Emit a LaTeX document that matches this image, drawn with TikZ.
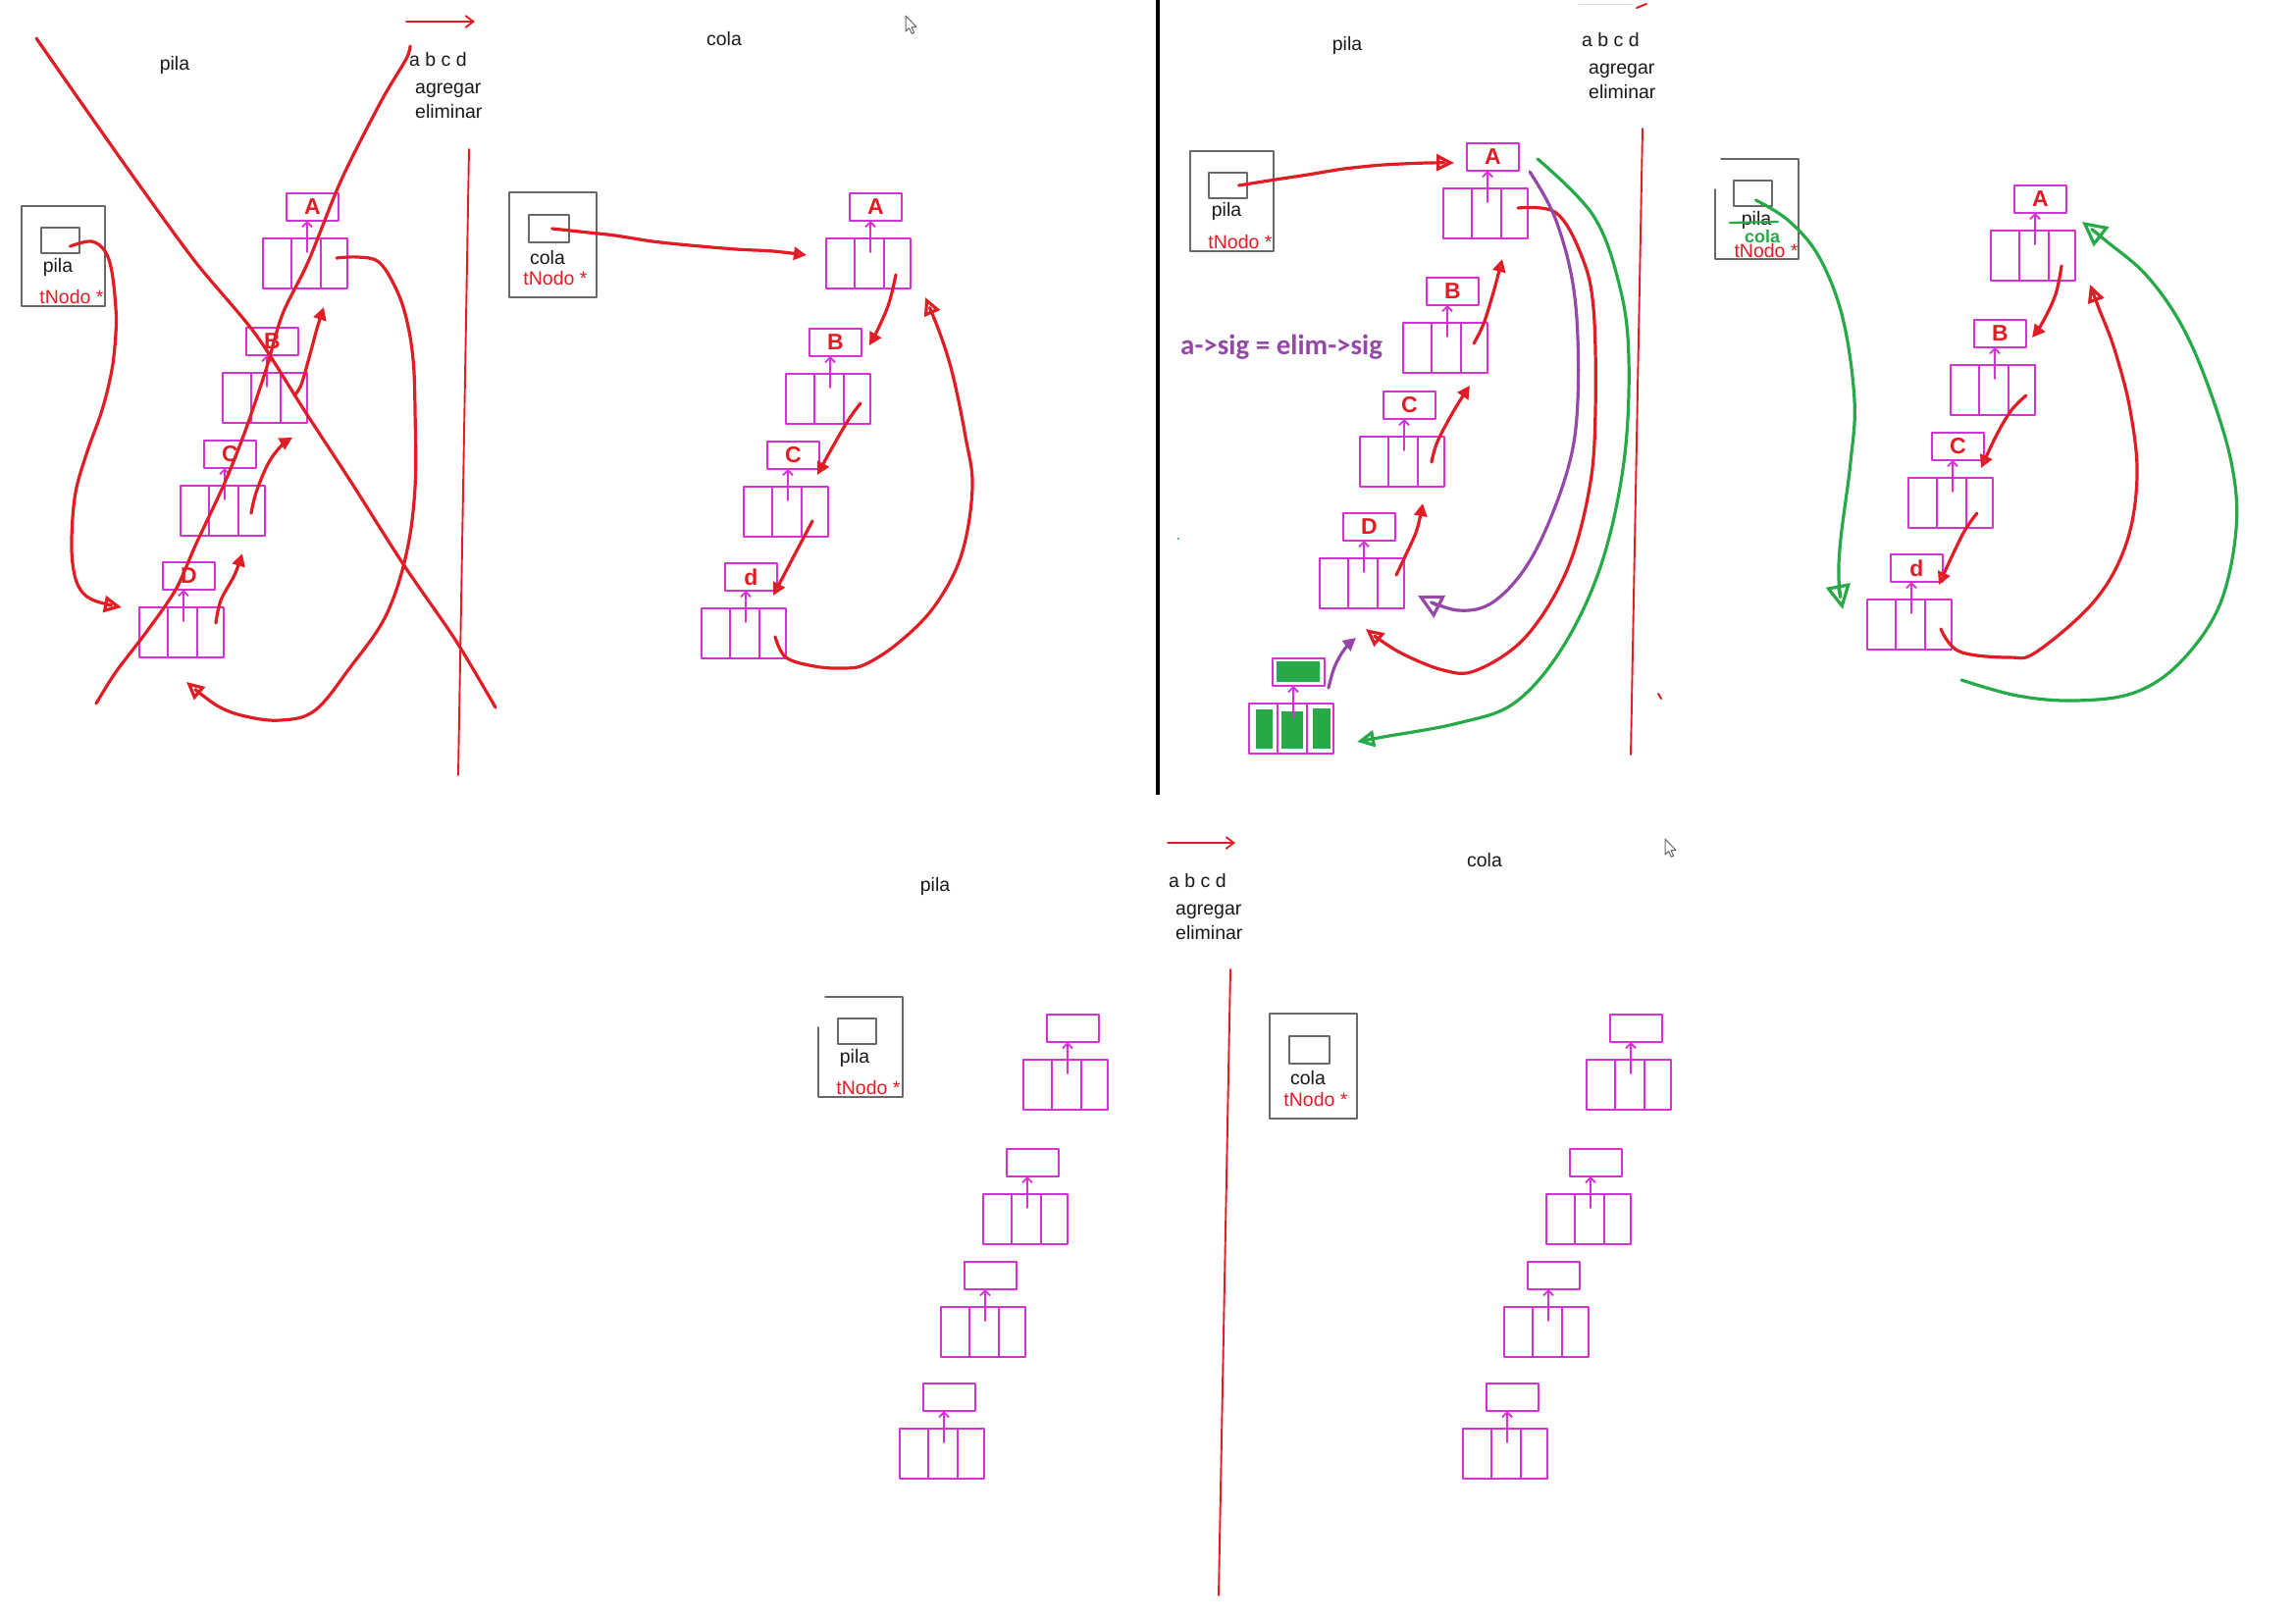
\documentclass[tikz,border=0pt]{standalone}
\usepackage{fontspec}
\setmainfont{Liberation Sans}
\newfontfamily\notefont{Carlito}
\usetikzlibrary{arrows.meta,calc}

\definecolor{mag}{RGB}{214,48,214}
\definecolor{penred}{RGB}{226,28,36}
\definecolor{pengreen}{RGB}{38,170,72}
\definecolor{penpurple}{RGB}{150,72,168}
\definecolor{boxgray}{RGB}{105,105,105}
\definecolor{ink}{RGB}{25,25,25}

\tikzset{
  lbl/.style={font=\fontsize{19.5}{22}\selectfont, text=ink, inner sep=0pt},
  typelbl/.style={font=\fontsize{19.5}{22}\selectfont, text=penred, inner sep=0pt},
  magline/.style={draw=mag, line width=1.8pt},
  structbox/.style={rectangle, draw=mag, line width=1.8pt, minimum width=86pt,
    minimum height=51pt, inner sep=0pt, outer sep=0pt, anchor=north west},
  databox/.style={rectangle, draw=mag, line width=1.8pt, minimum width=53pt,
    minimum height=28pt, inner sep=0pt, outer sep=0pt, anchor=north west,
    text=penred, font=\fontsize{23}{23}\selectfont\bfseries},
  varframe/.style={rectangle, draw=boxgray, line width=1.5pt, inner sep=0pt,
    outer sep=0pt, anchor=north west},
  ptrcell/.style={rectangle, draw=boxgray, line width=1.5pt, inner sep=0pt,
    outer sep=0pt, anchor=north west, minimum width=39pt, minimum height=26pt},
  redpen/.style={draw=penred, line width=3.2pt},
  greenpen/.style={draw=pengreen, line width=3.2pt},
  purplepen/.style={draw=penpurple, line width=3.2pt},
  thinred/.style={draw=penred, line width=1.9pt},
  headS/.style={-{Triangle[open,length=13pt,width=13pt]}},
  headM/.style={-{Triangle[open,length=18pt,width=17pt]}},
  headL/.style={-{Triangle[open,length=25pt,width=25pt]}},
  barb/.style={-{Straight Barb[length=8pt,width=12pt]}},
  cursorshape/.style={draw=black!60, fill=white, line width=1pt},
}

% one list node: data box above a three-cell record, with the arrow between them
\newcommand\listnode[4]{%
  \node[structbox] (#1) at (#2,#3) {};
  \node[databox] (#1d) at ($(#1.north west)+(24,-46)$) {#4};
  \draw[magline] ($(#1.north west)+(29,0)$) -- ($(#1.south west)+(29,0)$);
  \draw[magline] ($(#1.north west)+(59,0)$) -- ($(#1.south west)+(59,0)$);
  \draw[magline,-{Straight Barb[length=5pt,width=10pt]}]
    ($(#1.north west)+(45,14)$) -- ($(#1d.south west)+(21,0)$);
}

% mouse pointer outline
\newcommand\mousecursor[1]{%
  \draw[cursorshape, shift={#1}] (0,0) -- (0,16) -- (3.6,12.6) -- (6.2,18.2)
    -- (8.6,17.2) -- (6.1,11.7) -- (11,11.4) -- cycle;
}

\begin{document}
\begin{tikzpicture}[x=1pt,y=-1pt,line cap=round,line join=round]
\fill[white] (0,0) rectangle (2340,1649);
\useasboundingbox (0,0) rectangle (2340,1649);

% ------------------------------------------------------------ panel 1: pila (crossed out)
\node[lbl] (t1) at (178,66) {pila};
\draw[thinred,barb] (414,22) -- (484,22);
\node[lbl,anchor=west] (ops1a) at (417,61) {a b c d};
\node[lbl,anchor=west] (ops1b) at (423,92) {agregar};
\node[lbl,anchor=west] (ops1c) at (423,114) {eliminar};
\draw[thinred] (478,152) -- (467,790);

\node[varframe,minimum width=85pt,minimum height=102pt] (v1) at (22,210) {};
\node[ptrcell] (v1p) at (42,232) {};
\node[lbl] at (59,272) {pila};
\node[typelbl] at (73,303) {tNodo *};

\listnode{p1A}{268}{243}{A}
\listnode{p1B}{227}{380}{B}
\listnode{p1C}{184}{495}{C}
\listnode{p1D}{142}{619}{D}

\coordinate (v1s) at ($(v1p.center)+(10,6)$);
\draw[redpen,headM] plot[smooth,tension=0.6] coordinates {(v1s) (93,246) (107,256)
  (114,277) (118,314) (118,340) (114,377) (104,418) (89,460) (77,502) (73,549)
  (75,581) (82,601) (96,612) (124,619)};
\coordinate (p1As) at ($(p1A.north west)+(75,20)$);
\draw[redpen,headM] plot[smooth,tension=0.6] coordinates {(p1As) (364,262) (386,267)
  (403,293) (414,324) (421,366) (423,418) (423,497) (414,565) (393,628) (357,680)
  (321,724) (286,734) (250,730) (221,719) (190,695)};
\coordinate (p1Ds) at ($(p1D.north west)+(78,16)$);
\draw[redpen,headS] plot[smooth,tension=0.6] coordinates {(p1Ds) (225,612) (239,586) (247,564)};
\coordinate (p1Cs) at ($(p1C.north west)+(72,28)$);
\draw[redpen,headS] plot[smooth,tension=0.6] coordinates {(p1Cs) (261,502) (273,473) (286,455) (298,446)};
\coordinate (p1Bs) at ($(p1B.north west)+(73,23)$);
\draw[redpen,headS] plot[smooth,tension=0.6] coordinates {(p1Bs) (307,392) (316,361) (323,335) (330,313)};

% the two crossing strokes
\draw[redpen] plot[smooth,tension=0.5] coordinates {(37,39) (90,115) (143,190) (200,268)
  (260,340) (310,418) (357,490) (411,575) (464,652) (505,721)};
\draw[redpen] plot[smooth,tension=0.5] coordinates {(98,717) (118,685) (150,643) (179,601)
  (200,554) (229,492) (250,439) (271,377) (288,320) (314,267) (348,183) (388,104)
  (414,60) (418,47)};

% ------------------------------------------------------------ panel 2: cola
\node[lbl] (t2) at (738,40) {cola};
\mousecursor{(923,16)}
\node[varframe,minimum width=89pt,minimum height=107pt] (v2) at (519,196) {};
\node[ptrcell,minimum width=41pt,minimum height=28pt] (v2p) at (539,219) {};
\node[lbl] at (558,263) {cola};
\node[typelbl] at (566,284) {tNodo *};

\listnode{p2A}{842}{243}{A}
\listnode{p2B}{801}{381}{B}
\listnode{p2C}{758}{496}{C}
\listnode{p2D}{715}{620}{d}

\coordinate (v2s) at ($(v2p.center)+(3,0)$);
\draw[redpen,headS] plot[smooth,tension=0.5] coordinates {(v2s) (600,237) (627,240)
  (665,246) (703,250) (750,254) (788,256) (822,260)};
\coordinate (p2As) at ($(p2A.north west)+(71,37)$);
\draw[redpen,headS] plot[smooth,tension=0.6] coordinates {(p2As) (906,309) (895,335) (886,352)};
\coordinate (p2Bs) at ($(p2B.north west)+(76,30)$);
\draw[redpen,headS] plot[smooth,tension=0.6] coordinates {(p2Bs) (864,429) (846,460) (833,484)};
\coordinate (p2Cs) at ($(p2C.north west)+(70,35)$);
\draw[redpen,headS] plot[smooth,tension=0.6] coordinates {(p2Cs) (810,565) (788,607)};
\coordinate (p2Ds) at ($(p2D.north west)+(75,29)$);
\draw[redpen,headM] plot[smooth,tension=0.6] coordinates {(p2Ds) (801,670) (830,679)
  (859,681) (882,677) (917,654) (953,617) (980,565) (991,497) (984,445) (971,382)
  (958,340) (943,303)};

% ------------------------------------------------------------ divider
\draw[black,line width=4.5pt,line cap=butt] (1180,0) -- (1180,810);

% ------------------------------------------------------------ panel 3: pila, removing
\node[lbl] (t3) at (1373,46) {pila};
\node[lbl,anchor=west] (ops3a) at (1612,41) {a b c d};
\node[lbl,anchor=west] (ops3b) at (1619,72) {agregar};
\node[lbl,anchor=west] (ops3c) at (1619,94) {eliminar};
\draw[black!12,line width=1pt] (1609,4) -- (1664,4);
\draw[penred,line width=2pt] (1668,8) -- (1678,4);
\draw[thinred] (1674,131) -- (1662,769);
\draw[penred,line width=2pt] (1690,707) -- (1693,712);
\fill[pengreen] (1201,549) circle (1.2pt);

\node[varframe,minimum width=85pt,minimum height=102pt] (v3) at (1213,154) {};
\node[ptrcell] (v3p) at (1232,176) {};
\node[lbl] at (1250,215) {pila};
\node[typelbl] at (1264,247) {tNodo *};

\node[font=\notefont\fontsize{29}{31}\selectfont\bfseries, text=penpurple,
  anchor=west, inner sep=0pt] (note3) at (1203,354) {a->sig = elim->sig};

% green-filled node being removed
\fill[pengreen] (1301,674) rectangle (1345,695);
\fill[pengreen] (1280,723) rectangle (1297,763);
\fill[pengreen] (1306,725) rectangle (1328,763);
\fill[pengreen] (1338,722) rectangle (1356,763);

\listnode{p3A}{1471}{192}{A}
\listnode{p3B}{1430}{329}{B}
\listnode{p3C}{1386}{445}{C}
\listnode{p3D}{1345}{569}{D}
\listnode{p3G}{1273}{717}{}

\coordinate (v3s) at ($(v3p.center)+(11,0)$);
\draw[redpen,headM] plot[smooth,tension=0.5] coordinates {(v3s) (1300,183) (1333,178)
  (1370,172) (1410,168) (1455,166) (1482,166)};
\coordinate (p3Bs) at ($(p3B.north west)+(72,21)$);
\draw[redpen,headS] plot[smooth,tension=0.6] coordinates {(p3Bs) (1512,330) (1522,298) (1531,264)};
\coordinate (p3Cs) at ($(p3C.north west)+(73,26)$);
\draw[redpen,headS] plot[smooth,tension=0.6] coordinates {(p3Cs) (1465,450) (1482,418) (1498,393)};
\coordinate (p3Ds) at ($(p3D.north west)+(78,17)$);
\draw[redpen,headS] plot[smooth,tension=0.6] coordinates {(p3Ds) (1433,565) (1444,540) (1450,513)};
\coordinate (p3As) at ($(p3A.north west)+(76,20)$);
\draw[redpen,headM] plot[smooth,tension=0.6] coordinates {(p3As) (1586,217) (1612,261)
  (1624,314) (1626,418) (1620,497) (1597,581) (1555,649) (1505,683) (1471,683)
  (1425,664) (1392,641)};
\draw[purplepen,headL] plot[smooth,tension=0.6] coordinates {(1559,175) (1586,225)
  (1605,303) (1608,408) (1597,481) (1563,565) (1524,612) (1486,622) (1445,607)};
\coordinate (p3Gs) at ($(p3G.north east)+(-5,-16)$);
\draw[purplepen,headS] plot[smooth,tension=0.6] coordinates {(p3Gs) (1360,680) (1370,662) (1382,650)};
\draw[greenpen,headM] plot[smooth,tension=0.6] coordinates {(1567,162) (1624,220)
  (1651,293) (1660,366) (1655,471) (1632,575) (1593,659) (1544,716) (1486,737)
  (1410,751) (1383,756)};

% ------------------------------------------------------------ panel 4: the same list as a cola
\draw[draw=boxgray,line width=1.5pt] (1754,162) -- (1833,162) -- (1833,264) -- (1748,264) -- (1748,193);
\node[ptrcell] (v4p) at (1767,184) {};
\node[lbl] (v4l) at (1790,224) {pila};
\node[typelbl] at (1800,256) {tNodo *};
\draw[pengreen,line width=2.2pt] (1763,227) -- (1812,226);
\node[font=\fontsize{18}{20}\selectfont\bfseries, text=pengreen, inner sep=0pt] at (1796,241) {cola};

\listnode{p4A}{2029}{235}{A}
\listnode{p4B}{1988}{372}{B}
\listnode{p4C}{1945}{487}{C}
\listnode{p4D}{1903}{611}{d}

\coordinate (p4As) at ($(p4A.north west)+(72,36)$);
\draw[redpen,headS] plot[smooth,tension=0.6] coordinates {(p4As) (2095,300) (2082,328) (2071,344)};
\coordinate (p4Bs) at ($(p4B.north west)+(77,31)$);
\draw[redpen,headS] plot[smooth,tension=0.6] coordinates {(p4Bs) (2050,418) (2035,443) (2019,477)};
\coordinate (p4Cs) at ($(p4C.north west)+(70,36)$);
\draw[redpen,headS] plot[smooth,tension=0.6] coordinates {(p4Cs) (2000,545) (1976,596)};
\coordinate (p4Ds) at ($(p4D.north west)+(75,30)$);
\draw[redpen,headM] plot[smooth,tension=0.6] coordinates {(p4Ds) (1997,664) (2048,670)
  (2076,664) (2135,612) (2167,554) (2178,486) (2171,418) (2155,356) (2139,314) (2130,290)};
\coordinate (v4s) at ($(v4p.center)+(3,7)$);
\draw[greenpen,headL] plot[smooth,tension=0.6] coordinates {(v4s) (1823,225) (1854,262)
  (1878,324) (1890,408) (1886,471) (1876,549) (1874,590) (1878,621)};
\draw[greenpen,headL] plot[smooth,tension=0.6] coordinates {(1999,693) (2056,709)
  (2115,714) (2175,706) (2222,675) (2262,617) (2279,539) (2274,471) (2250,392)
  (2222,329) (2187,280) (2147,246) (2122,226)};

% ------------------------------------------------------------ panel 5: pila, empty
\node[lbl] (t5) at (953,903) {pila};
\draw[thinred,barb] (1190,859) -- (1259,859);
\node[lbl,anchor=west] (ops5a) at (1191,898) {a b c d};
\node[lbl,anchor=west] (ops5b) at (1198,929) {agregar};
\node[lbl,anchor=west] (ops5c) at (1198,951) {eliminar};
\draw[thinred] (1254,988) -- (1242,1626);

\draw[draw=boxgray,line width=1.5pt] (841,1016) -- (920,1016) -- (920,1118) -- (834,1118) -- (834,1047);
\node[ptrcell] (v5p) at (854,1038) {};
\node[lbl] at (871,1078) {pila};
\node[typelbl] at (885,1109) {tNodo *};

\listnode{p5A}{1043}{1080}{}
\listnode{p5B}{1002}{1217}{}
\listnode{p5C}{959}{1332}{}
\listnode{p5D}{917}{1456}{}

% ------------------------------------------------------------ panel 6: cola, empty
\node[lbl] (t6) at (1513,877) {cola};
\mousecursor{(1697,855)}
\node[varframe,minimum width=89pt,minimum height=107pt] (v6) at (1294,1033) {};
\node[ptrcell,minimum width=41pt,minimum height=28pt] (v6p) at (1314,1056) {};
\node[lbl] at (1333,1099) {cola};
\node[typelbl] at (1341,1121) {tNodo *};

\listnode{p6A}{1617}{1080}{}
\listnode{p6B}{1576}{1217}{}
\listnode{p6C}{1533}{1332}{}
\listnode{p6D}{1491}{1456}{}

\end{tikzpicture}
\end{document}
